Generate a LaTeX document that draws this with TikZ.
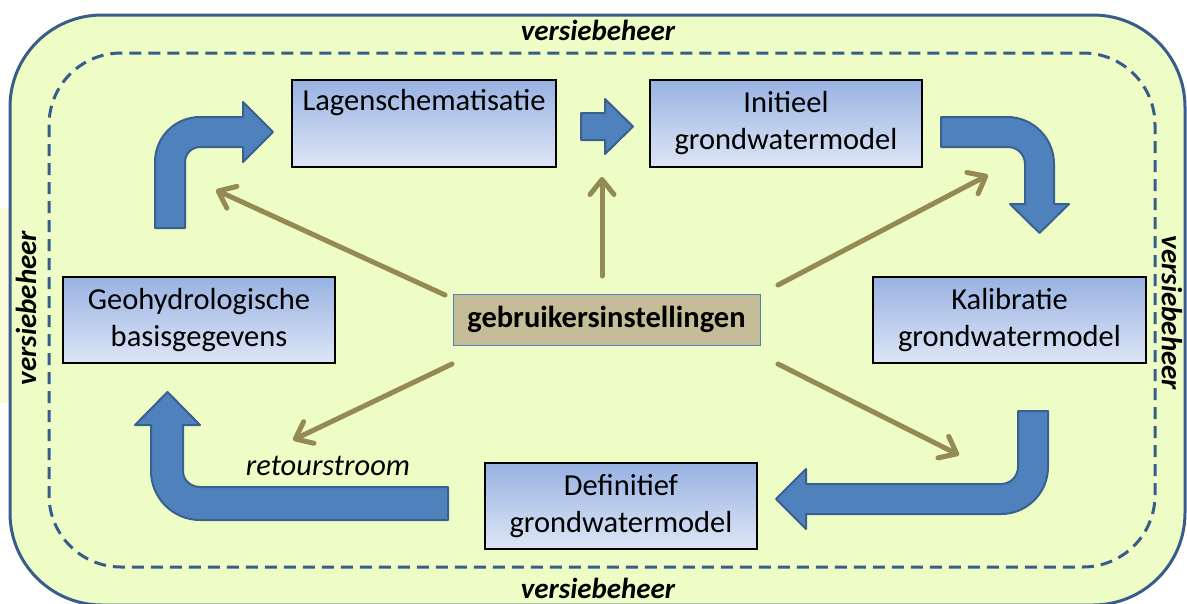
\documentclass[tikz,border=0pt]{standalone}
\usepackage{fontspec}
\setmainfont{Carlito}
\usetikzlibrary{arrows.meta}
\definecolor{bgfill}{RGB}{238,252,198}
\definecolor{frameblue}{RGB}{56,93,138}
\definecolor{arrowblue}{RGB}{79,129,189}
\definecolor{arrowedge}{RGB}{58,96,142}
\definecolor{olivearrow}{RGB}{148,138,84}
\definecolor{tanfill}{RGB}{196,189,151}
\definecolor{boxtop}{RGB}{152,178,226}
\definecolor{boxbot}{RGB}{222,230,246}
\definecolor{labelbg}{RGB}{249,252,214}
\begin{document}
\begin{tikzpicture}[x=1pt,y=-1pt,
  txt/.style={font=\fontsize{30.5}{37}\selectfont},
  procbox/.style={txt, draw=black, line width=1.3pt, top color=boxtop, bottom color=boxbot,
    align=center, inner sep=0pt, minimum height=87pt},
  setbox/.style={txt, font=\fontsize{30.5}{37}\selectfont\bfseries, draw=arrowblue, line width=1pt,
    fill=tanfill, inner sep=0pt, minimum width=307pt, minimum height=51pt},
  vlabel/.style={font=\fontsize{29}{35}\selectfont\bfseries\itshape, inner sep=0pt},
  blockarrow/.style={fill=arrowblue, draw=arrowedge, line width=2pt, line join=round},
  userarrow/.style={draw=olivearrow, line width=5pt, line cap=round,
    -{Straight Barb[length=15pt,width=24pt,round]}},
  frame/.style={draw=frameblue, line width=3pt},
  dashframe/.style={draw=frameblue, line width=3pt, dash pattern=on 12pt off 7pt}
]
\useasboundingbox (0,0) rectangle (1187,603);
% background frame
\fill[bgfill, rounded corners=92pt] (10,15) rectangle (1185,605);
\fill[labelbg] (0,208) rectangle (10,403);
\draw[frame, rounded corners=92pt] (10,15) rectangle (1185,605);
\draw[dashframe, rounded corners=72pt] (49,53) rectangle (1155,567);

% version labels
\node[vlabel, anchor=base] (vtop) at (598,40) {versiebeheer};
\node[vlabel, anchor=base] (vbot) at (598,598) {versiebeheer};
\node[vlabel, rotate=90] (vleft) at (26,308) {versiebeheer};
\node[vlabel, rotate=-90] (vright) at (1172,313) {versiebeheer};

% process boxes
\node[procbox, minimum width=264pt] (lagen) at (424,123.5) {Lagenschematisatie\\\strut};
\node[procbox, minimum width=272pt] (init) at (786,123.5) {Initieel\\grondwatermodel};
\node[procbox, minimum width=272pt, minimum height=86pt] (geo) at (199,320) {Geohydrologische\\basisgegevens};
\node[procbox, minimum width=273pt, minimum height=86pt] (kal) at (1009.5,320) {Kalibratie\\grondwatermodel};
\node[procbox, minimum width=272pt, minimum height=86pt] (def) at (621,506) {Definitief\\grondwatermodel};
\node[setbox] (gebr) at (606.5,319.5) {gebruikersinstellingen};

% block arrows
\path[blockarrow] (155,228) -- (155,162) .. controls (155,137.1) and (175.1,117) .. (200,117)
  -- (243,117) -- (243,102) -- (273,132) -- (243,162) -- (243,147) -- (200,147)
  .. controls (191.7,147) and (185,153.7) .. (185,162) -- (185,228) -- cycle;
\path[blockarrow] (581,113) -- (605,113) -- (605,99) -- (633,126.5) -- (605,154) -- (605,140) -- (581,140) -- cycle;
\path[blockarrow] (941,117) -- (1007,117) .. controls (1033,117) and (1054,138) .. (1054,164)
  -- (1054,204) -- (1069,204) -- (1039.5,233) -- (1010,204) -- (1025,204) -- (1025,164)
  .. controls (1025,154.6) and (1017.4,147) .. (1008,147) -- (941,147) -- cycle;
\path[blockarrow] (1018,411) -- (1048,411) -- (1048,467) .. controls (1048,493) and (1027,514) .. (1001,514)
  -- (806,514) -- (806,529) -- (776,499) -- (806,469) -- (806,484) -- (1001,484)
  .. controls (1010.4,484) and (1018,476.4) .. (1018,467) -- cycle;
\path[blockarrow] (448,487) -- (448,520) -- (200,520) .. controls (173,520) and (151,498) .. (151,471)
  -- (151,425) -- (135,425) -- (167.5,392) -- (200,425) -- (183,425) -- (183,471)
  .. controls (183,480) and (190.6,487) .. (200,487) -- cycle;

\node[txt, font=\fontsize{30.5}{37}\selectfont\itshape] (retour) at (328,466) {retourstroom};

% user setting arrows
\coordinate (tUL) at (445,295);
\coordinate (hUL) at (216,190);
\coordinate (tU) at (602,276);
\coordinate (hU) at (602,177);
\coordinate (tUR) at (778,285);
\coordinate (hUR) at (988,175);
\coordinate (tLL) at (452,364);
\coordinate (hLL) at (293,440);
\coordinate (tLR) at (778,364);
\coordinate (hLR) at (959,455);
\draw[userarrow] (tUL) -- (hUL);
\draw[userarrow] (tU) -- (hU);
\draw[userarrow] (tUR) -- (hUR);
\draw[userarrow] (tLL) -- (hLL);
\draw[userarrow] (tLR) -- (hLR);
\end{tikzpicture}
\end{document}
